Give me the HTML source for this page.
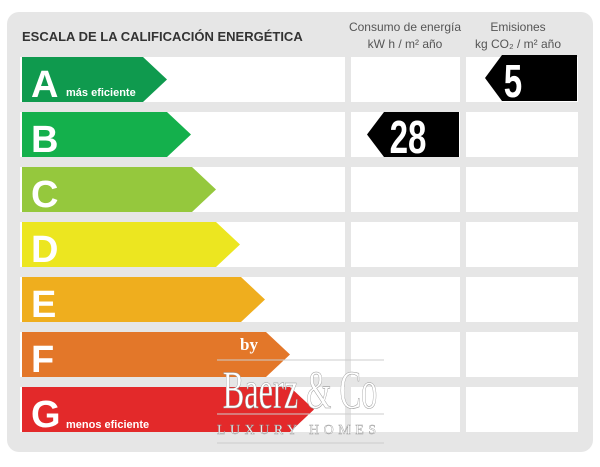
<!DOCTYPE html>
<html><head><meta charset="utf-8"><style>
body{margin:0;background:#fff;width:600px;height:462px;overflow:hidden;font-family:"Liberation Sans",sans-serif}
</style></head><body>
<svg width="600" height="462" viewBox="0 0 600 462" xmlns="http://www.w3.org/2000/svg" font-family="Liberation Sans, sans-serif">
<rect x="7" y="12" width="586" height="440" rx="12" fill="#e6e6e6"/>
<text x="22" y="41" font-size="13" font-weight="bold" fill="#333">ESCALA DE LA CALIFICACIÓN ENERGÉTICA</text>
<text x="405" y="31" font-size="12" fill="#555" text-anchor="middle">Consumo de energía</text>
<text x="405" y="48" font-size="12" fill="#555" text-anchor="middle">kW h  / m² año</text>
<text x="518" y="31" font-size="12" fill="#555" text-anchor="middle">Emisiones</text>
<text x="518" y="48" font-size="12" fill="#555" text-anchor="middle">kg CO₂  / m² año</text>
<g fill="#fff">
<rect x="20" y="57" width="325" height="45"/><rect x="351" y="57" width="109" height="45"/><rect x="466" y="57" width="112" height="45"/>
<rect x="20" y="112" width="325" height="45"/><rect x="351" y="112" width="109" height="45"/><rect x="466" y="112" width="112" height="45"/>
<rect x="20" y="167" width="325" height="45"/><rect x="351" y="167" width="109" height="45"/><rect x="466" y="167" width="112" height="45"/>
<rect x="20" y="222" width="325" height="45"/><rect x="351" y="222" width="109" height="45"/><rect x="466" y="222" width="112" height="45"/>
<rect x="20" y="277" width="325" height="45"/><rect x="351" y="277" width="109" height="45"/><rect x="466" y="277" width="112" height="45"/>
<rect x="20" y="332" width="325" height="45"/><rect x="351" y="332" width="109" height="45"/><rect x="466" y="332" width="112" height="45"/>
<rect x="20" y="387" width="325" height="45"/><rect x="351" y="387" width="109" height="45"/><rect x="466" y="387" width="112" height="45"/>
</g>
<polygon points="22,57 143,57 167,79.5 143,102 22,102" fill="#0f9a4e"/>
<polygon points="22,112 167,112 191,134.5 167,157 22,157" fill="#14b04c"/>
<polygon points="22,167 192,167 216,189.5 192,212 22,212" fill="#95c83d"/>
<polygon points="22,222 216,222 240,244.5 216,267 22,267" fill="#ece620"/>
<polygon points="22,277 241,277 265,299.5 241,322 22,322" fill="#efae1e"/>
<polygon points="22,332 266,332 290,354.5 266,377 22,377" fill="#e37729"/>
<polygon points="22,387 290,387 314,409.5 290,432 22,432" fill="#e3292a"/>
<g fill="#fff" font-weight="bold" font-size="38">
<text x="31" y="97">A</text><text x="31" y="152">B</text><text x="31" y="207">C</text><text x="31" y="262">D</text><text x="31" y="317">E</text><text x="31" y="372">F</text><text x="31" y="427">G</text>
</g>
<text x="66" y="96" font-size="11" font-weight="bold" fill="#fff">más eficiente</text>
<text x="66" y="428" font-size="11" font-weight="bold" fill="#fff">menos eficiente</text>
<polygon points="502,55 577,55 577,101 502,101 485,78" fill="#000"/>
<text x="513" y="97" font-size="46" font-weight="bold" fill="#fff" text-anchor="middle" transform="translate(513 0) scale(0.72 1) translate(-513 0)">5</text>
<polygon points="384,112 459,112 459,157 384,157 367,134.5" fill="#000"/>
<text x="408" y="153" font-size="46" font-weight="bold" fill="#fff" text-anchor="middle" transform="translate(408 0) scale(0.72 1) translate(-408 0)">28</text>
<g font-family="Liberation Serif, serif">
<text x="240" y="350" font-size="17" fill="#fff" font-weight="bold">by</text>
<line x1="217" y1="360" x2="384" y2="360" stroke="#ccc" stroke-width="1"/>
<text x="300" y="408" font-size="54" fill="#fff" stroke="#999" stroke-width="0.6" text-anchor="middle" transform="translate(300 0) scale(0.6 1) translate(-300 0)">Baerz &amp; Co</text>
<line x1="217" y1="414" x2="384" y2="414" stroke="#ccc" stroke-width="1"/>
<text x="217" y="434" font-size="14" fill="#fff" stroke="#999" stroke-width="0.4" letter-spacing="4.5">LUXURY HOMES</text>
<line x1="217" y1="443" x2="384" y2="443" stroke="#ccc" stroke-width="1"/>
</g>
</svg>
</body></html>
